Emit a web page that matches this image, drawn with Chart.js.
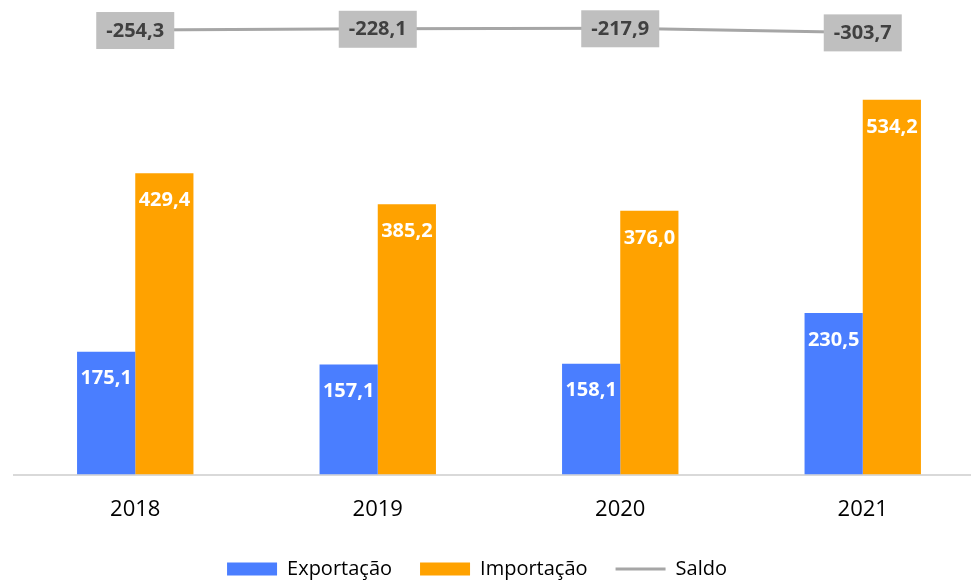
<!DOCTYPE html>
<html>
<head>
<meta charset="utf-8">
<script src="https://cdn.jsdelivr.net/npm/chart.js@4/dist/chart.umd.min.js"></script>
<style>
  html, body { margin: 0; padding: 0; background: #fff; overflow: hidden; }
  #wrap { width: 984px; height: 581px; position: relative; }
</style>
</head>
<body>
<div id="wrap"><canvas id="chart"></canvas></div>
<script>
// values (R$ bilhões)
const years = ["2018", "2019", "2020", "2021"];
const exportacao = [175.1, 157.1, 158.1, 230.5];
const importacao = [429.4, 385.2, 376.0, 534.2];
const saldo = [-254.3, -228.1, -217.9, -303.7];

const FONT = "'Open Sans', 'Noto Sans', sans-serif";

function fmt(v) {
  return v.toFixed(1).replace(".", ",");
}

// draws the value labels (no datalabels plugin available offline)
const valueLabels = {
  id: "valueLabels",
  afterLayout(chart) {
    // legend sits a bit left of the canvas centre in the original
    chart.legend.left -= 22;
    chart.legend.right -= 22;
  },
  afterDatasetsDraw(chart) {
    const ctx = chart.ctx;
    ctx.save();
    ctx.textAlign = "center";
    ctx.textBaseline = "middle";
    chart.data.datasets.forEach((ds, i) => {
      const meta = chart.getDatasetMeta(i);
      meta.data.forEach((el, j) => {
        const v = ds.data[j];
        if (ds.type === "line") {
          ctx.fillStyle = "#BFBFBF";
          ctx.fillRect(el.x - 39, el.y - 18, 78, 37);
          ctx.fillStyle = "#404040";
          ctx.font = "bold 20px " + FONT;
          ctx.fillText(fmt(v), el.x, el.y + 1);
        } else {
          ctx.fillStyle = "#FFFFFF";
          ctx.font = "bold 20px " + FONT;
          ctx.fillText(fmt(v), el.x, el.y + 27);
        }
      });
    });
    ctx.restore();
  },
};

new Chart(document.getElementById("chart"), {
  data: {
    labels: years,
    datasets: [
      {
        type: "line",
        label: "Saldo",
        data: saldo,
        yAxisID: "y1",
        borderColor: "#A6A6A6",
        backgroundColor: "#A6A6A6",
        borderWidth: 3,
        pointRadius: 0,
        pointStyle: "line",
        order: 0,
      },
      {
        type: "bar",
        label: "Exportação",
        data: exportacao,
        backgroundColor: "#4A7EFF",
        borderWidth: 0,
        pointStyle: "rect",
        order: 1,
      },
      {
        type: "bar",
        label: "Importação",
        data: importacao,
        backgroundColor: "#FFA200",
        borderWidth: 0,
        pointStyle: "rect",
        order: 1,
      },
    ],
  },
  options: {
    responsive: true,
    maintainAspectRatio: false,
    animation: false,
    layout: { padding: { top: 20, left: 14, right: 0, bottom: -8 } },
    datasets: {
      bar: { categoryPercentage: 0.48, barPercentage: 1.0 },
    },
    plugins: {
      legend: {
        position: "bottom",
        labels: {
          usePointStyle: true,
          pointStyleWidth: 50,
          boxHeight: 13,
          padding: 28,
          color: "#000",
          font: { family: FONT, size: 20 },
          sort: (a, b) => {
            const order = ["Exportação", "Importação", "Saldo"];
            return order.indexOf(a.text) - order.indexOf(b.text);
          },
        },
      },
      tooltip: { enabled: false },
    },
    scales: {
      x: {
        grid: { display: false },
        border: { display: true, color: "#D9D9D9", width: 2 },
        ticks: { color: "#000", font: { family: FONT, size: 22 }, padding: 14 },
        afterFit(scale) {
          scale.height -= 6;
        },
      },
      y: {
        display: false,
        min: 0,
        max: 648,
      },
      y1: {
        display: false,
        min: -9584,
        max: -44,
      },
    },
  },
  plugins: [valueLabels],
});
</script>
</body>
</html>
